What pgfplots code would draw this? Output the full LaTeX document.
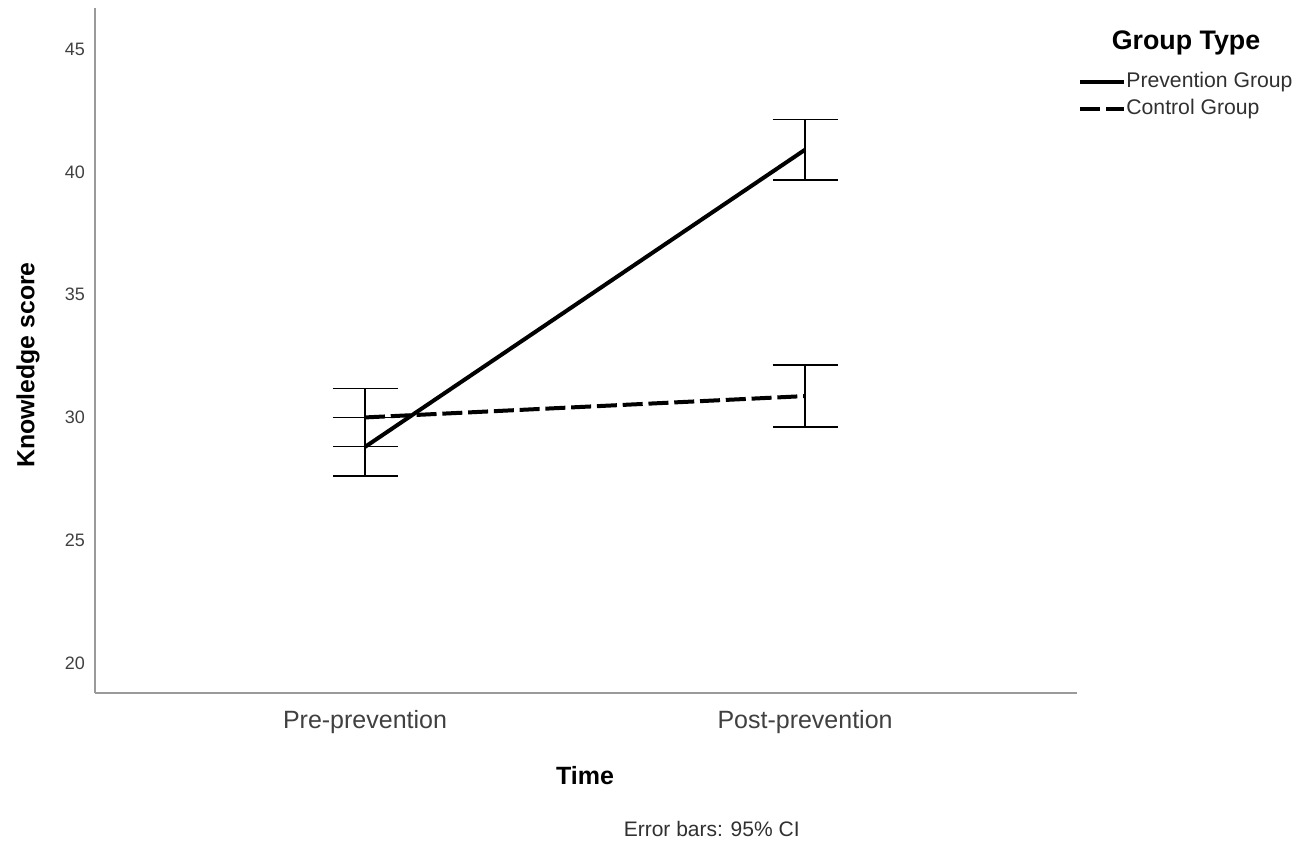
\documentclass[border=0pt]{standalone}
\usepackage{fontspec}
\setmainfont{Liberation Sans}
\usepackage{pgfplots}
\pgfplotsset{compat=1.18}
\definecolor{axisgray}{HTML}{9A9A9A}
\definecolor{ticktext}{HTML}{404040}
\definecolor{legtext}{HTML}{303030}
\pgfplotstableread{
x y e
0 28.80 1.20
1 40.90 1.23
}\prevention
\pgfplotstableread{
x y e
0 30.00 1.18
1 30.87 1.27
}\control
\begin{document}
\begin{tikzpicture}
\useasboundingbox (-47.5pt,-75pt) rectangle (603pt,346.5pt);
\begin{axis}[
  at={(0pt,0pt)}, anchor=south west,
  scale only axis, width=491pt, height=342.5pt,
  xmin=-0.6136, xmax=1.618, ymin=18.78, ymax=46.67,
  axis x line*=bottom, axis y line*=left,
  axis line style={-, draw=axisgray, line width=0.9pt},
  major tick length=0pt, tick style={draw=none},
  xtick={0,1}, xticklabels={Pre-prevention, Post-prevention},
  ytick={20,25,30,35,40,45},
  /pgf/number format/assume math mode=true,
  xticklabel style={font=\fontsize{12.5}{14}\selectfont, text=ticktext, yshift=-5pt},
  yticklabel style={font=\fontsize{9}{11}\selectfont, text=ticktext, xshift=-1.5pt},
  xlabel={\textbf{Time}},
  ylabel={\textbf{Knowledge score}},
  xlabel style={font=\fontsize{12.5}{14}\selectfont, at={(rel axis cs:0.499,0)}, anchor=center, yshift=-41.5pt},
  ylabel style={font=\fontsize{12.4}{14}\selectfont, at={(rel axis cs:0,0.479)}, anchor=center, yshift=33.5pt},
  legend style={draw=none, fill=none, at={(rel axis cs:1.001,0.908)}, anchor=north west,
    inner sep=0pt, row sep=3pt, column sep=0pt,
    font=\fontsize{10.6}{12}\selectfont,
    nodes={inner sep=0pt, text height=8pt, text depth=2.5pt, text=legtext}},
  legend cell align=left,
  legend image code/.code={\draw[#1] (0pt,0pt) -- (20pt,0pt); \path (0pt,0pt) -- (22pt,0pt);},
  clip=false,
]
\addplot[black, line width=2pt, mark=none,
  error bars/.cd, y dir=both, y explicit,
  error bar style={line width=0.9pt, black, solid},
  error mark options={rotate=90, mark size=16.25pt, line width=0.9pt, black, solid}]
  table[x=x, y=y, y error=e] {\prevention};
\addlegendentry{Prevention Group}
\addplot[black, line width=2pt, mark=none, dash pattern=on 10pt off 2.9pt,
  error bars/.cd, y dir=both, y explicit,
  error bar style={line width=0.9pt, black, solid},
  error mark options={rotate=90, mark size=16.25pt, line width=0.9pt, black, solid}]
  table[x=x, y=y, y error=e] {\control};
\addlegendentry{Control Group}
\node[font=\bfseries\fontsize{13.4}{15}\selectfont, anchor=center] at (rel axis cs:1.111,0.949) {Group Type};
\node[font=\fontsize{10.5}{12}\selectfont, text=legtext, anchor=center] at (rel axis cs:0.628,0) [yshift=-68pt] {Error bars: 95\% CI};
\end{axis}
\end{tikzpicture}
\end{document}
